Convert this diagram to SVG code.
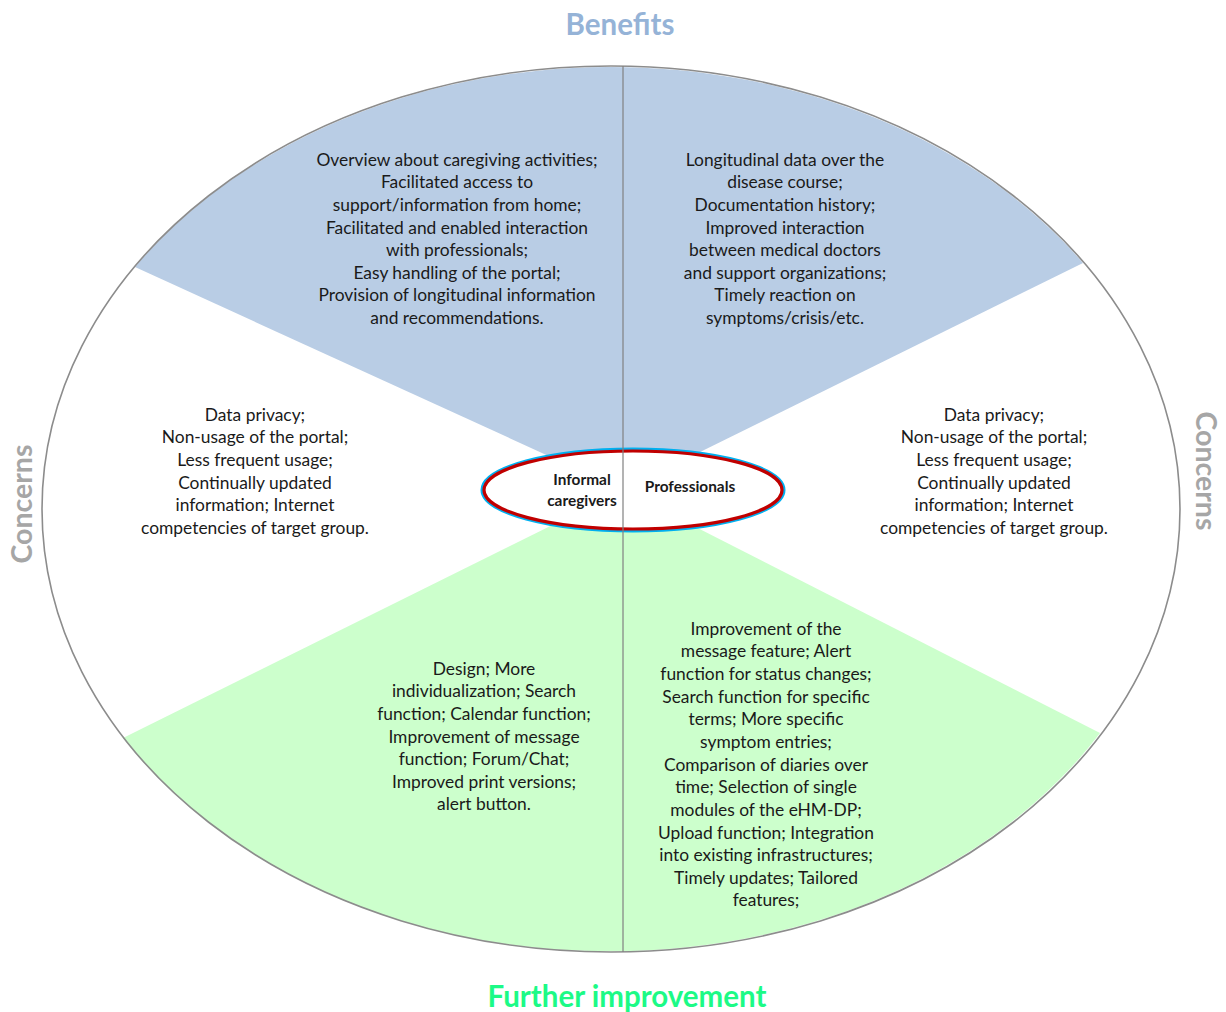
<svg xmlns="http://www.w3.org/2000/svg" width="1226" height="1012" viewBox="0 0 1226 1012">
  <style>
    .body { font-family: Lato, "Liberation Sans", sans-serif; font-size: 17.4px; fill: #1a1a1a; text-anchor: middle; }
    .hub { font-family: Lato, "Liberation Sans", sans-serif; font-size: 15.4px; font-weight: bold; fill: #1a1a1a; text-anchor: middle; }
    .title { font-family: Lato, "Liberation Sans", sans-serif; font-size: 29.5px; font-weight: bold; text-anchor: middle; }
    .side { font-size: 28.5px; }
    .outline { fill: none; stroke: #8c8c8c; stroke-width: 1.6; }
  </style>

  <!-- sector fills -->
  <g id="sectors">
    <path id="benefits-sector" d="M623,490 L135,267 A569,443 0 0 1 1083,263 Z" fill="#b9cde5"/>
    <path id="improvement-sector" d="M623,490 L1100,733 A569,443 0 0 1 123,738 Z" fill="#ccffcc"/>
  </g>

  <!-- outer ring -->
  <g id="connectors">
    <ellipse class="outline" cx="611" cy="509" rx="569" ry="443"/>
  </g>

  <!-- central hub -->
  <g id="hub">
    <ellipse cx="633" cy="490" rx="151" ry="41" fill="#ffffff" stroke="#00b0f0" stroke-width="3"/>
    <ellipse cx="633" cy="490" rx="149" ry="39" fill="#ffffff" stroke="#c00000" stroke-width="3.2"/>
    <text class="hub" x="582" y="485">Informal</text>
    <text class="hub" x="582" y="506">caregivers</text>
    <text class="hub" x="690" y="492">Professionals</text>
  </g>

  <!-- dividing axis -->
  <g id="axis">
    <line x1="623" y1="66" x2="623" y2="952" stroke="#808080" stroke-width="1.2"/>
  </g>

  <!-- category titles -->
  <g id="titles">
    <text class="title" x="620" y="35" fill="#95b3d7">Benefits</text>
    <text class="title" x="627" y="1007" fill="#1cfa86">Further improvement</text>
    <text class="title side" transform="translate(32,504) rotate(-90)" fill="#a6a6a6">Concerns</text>
    <text class="title side" transform="translate(1196,471) rotate(90)" fill="#a6a6a6">Concerns</text>
  </g>

  <!-- benefits for informal caregivers -->
  <g id="benefits-caregivers" class="body">
    <text x="457" y="166">Overview about caregiving activities;</text>
    <text x="457" y="188">Facilitated access to</text>
    <text x="457" y="211">support/information from home;</text>
    <text x="457" y="234">Facilitated and enabled interaction</text>
    <text x="457" y="256">with professionals;</text>
    <text x="457" y="279">Easy handling of the portal;</text>
    <text x="457" y="301">Provision of longitudinal information</text>
    <text x="457" y="324">and recommendations.</text>
  </g>

  <!-- benefits for professionals -->
  <g id="benefits-professionals" class="body">
    <text x="785" y="166">Longitudinal data over the</text>
    <text x="785" y="188">disease course;</text>
    <text x="785" y="211">Documentation history;</text>
    <text x="785" y="234">Improved interaction</text>
    <text x="785" y="256">between medical doctors</text>
    <text x="785" y="279">and support organizations;</text>
    <text x="785" y="301">Timely reaction on</text>
    <text x="785" y="324">symptoms/crisis/etc.</text>
  </g>

  <!-- concerns, informal caregivers -->
  <g id="concerns-caregivers" class="body">
    <text x="255" y="421">Data privacy;</text>
    <text x="255" y="443">Non-usage of the portal;</text>
    <text x="255" y="466">Less frequent usage;</text>
    <text x="255" y="489">Continually updated</text>
    <text x="255" y="511">information;  Internet</text>
    <text x="255" y="534">competencies of target group.</text>
  </g>

  <!-- concerns, professionals -->
  <g id="concerns-professionals" class="body">
    <text x="994" y="421">Data privacy;</text>
    <text x="994" y="443">Non-usage of the portal;</text>
    <text x="994" y="466">Less frequent usage;</text>
    <text x="994" y="489">Continually updated</text>
    <text x="994" y="511">information;  Internet</text>
    <text x="994" y="534">competencies of target group.</text>
  </g>

  <!-- further improvement, informal caregivers -->
  <g id="improvement-caregivers" class="body">
    <text x="484" y="675">Design; More</text>
    <text x="484" y="697">individualization; Search</text>
    <text x="484" y="720">function; Calendar function;</text>
    <text x="484" y="743">Improvement of message</text>
    <text x="484" y="765">function; Forum/Chat;</text>
    <text x="484" y="788">Improved print versions;</text>
    <text x="484" y="810">alert button.</text>
  </g>

  <!-- further improvement, professionals -->
  <g id="improvement-professionals" class="body">
    <text x="766" y="635">Improvement of the</text>
    <text x="766" y="657">message feature; Alert</text>
    <text x="766" y="680">function for status changes;</text>
    <text x="766" y="703">Search function for specific</text>
    <text x="766" y="725">terms; More specific</text>
    <text x="766" y="748">symptom entries;</text>
    <text x="766" y="771">Comparison of diaries over</text>
    <text x="766" y="793">time; Selection of single</text>
    <text x="766" y="816">modules of the eHM-DP;</text>
    <text x="766" y="839">Upload function; Integration</text>
    <text x="766" y="861">into existing infrastructures;</text>
    <text x="766" y="884">Timely updates; Tailored</text>
    <text x="766" y="906">features;</text>
  </g>
</svg>
